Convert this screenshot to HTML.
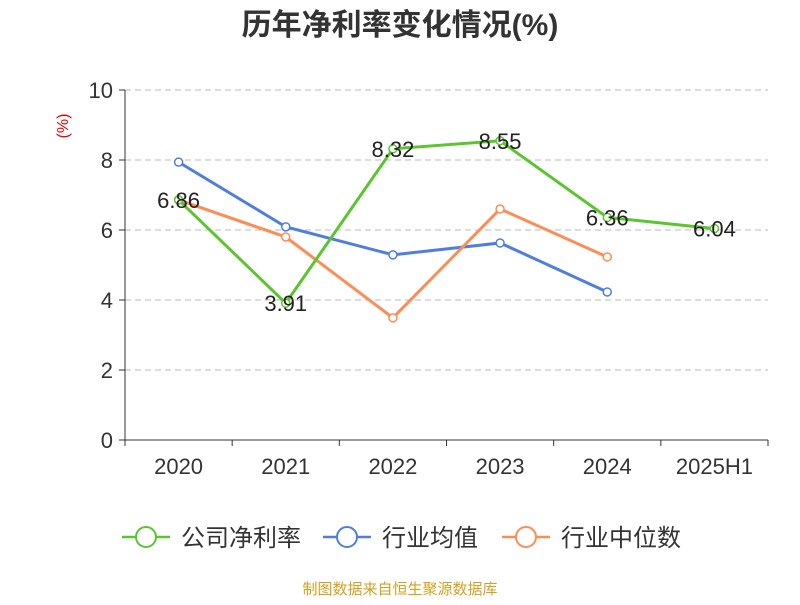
<!DOCTYPE html>
<html><head><meta charset="utf-8"><style>
body{margin:0;background:#fff;font-family:"Liberation Sans","Noto Sans CJK SC",sans-serif}
</style></head><body>
<svg width="800" height="600" font-family="Liberation Sans, Noto Sans CJK SC, sans-serif">
<text x="400" y="35" text-anchor="middle" font-size="30" font-weight="bold" fill="#333">历年净利率变化情况(%)</text>
<text x="68" y="126" text-anchor="middle" font-size="16" fill="#e00" transform="rotate(-90 68 126)">(%)</text>
<g id="grid"></g><g id="axes"></g><g id="series"></g>
<g>
<g><line x1="122" y1="537" x2="170" y2="537" stroke="#5ac52e" stroke-width="2.5"/><circle cx="146" cy="537" r="10" fill="#fff" stroke="#5ac52e" stroke-width="2"/><text x="181" y="546" font-size="24" fill="#333">公司净利率</text></g>
<g><line x1="323" y1="537" x2="371" y2="537" stroke="#4e7fe0" stroke-width="2.5"/><circle cx="347" cy="537" r="10" fill="#fff" stroke="#4e7fe0" stroke-width="2"/><text x="382" y="546" font-size="24" fill="#333">行业均值</text></g>
<g><line x1="502" y1="537" x2="550" y2="537" stroke="#ff8c55" stroke-width="2.5"/><circle cx="526" cy="537" r="10" fill="#fff" stroke="#ff8c55" stroke-width="2"/><text x="561" y="546" font-size="24" fill="#333">行业中位数</text></g>
</g>
<text x="400" y="594" text-anchor="middle" font-size="15" fill="#d4a020">制图数据来自恒生聚源数据库</text>
</svg>
<script>
const categories=["2020","2021","2022","2023","2024","2025H1"];
const company=[6.86,3.91,8.32,8.55,6.36,6.04];
const industryAvg=[7.94,6.09,5.29,5.63,4.23];
const industryMedian=[6.86,5.8,3.49,6.6,5.23];
const yTicks=[0,2,4,6,8,10];
const NS="http://www.w3.org/2000/svg";
const L=125,R=768,T=90,B=440,bw=(R-L)/categories.length;
const xs=i=>L+bw*(i+0.5), ys=v=>B-(v/10)*(B-T);
function mk(tag,attrs,parent,txt){const e=document.createElementNS(NS,tag);for(const k in attrs)e.setAttribute(k,attrs[k]);if(txt!==undefined)e.textContent=txt;parent.appendChild(e);return e;}
const grid=document.getElementById('grid'),axes=document.getElementById('axes'),ser=document.getElementById('series');
yTicks.forEach(t=>{
  if(t>0){const g=mk('line',{x1:L,x2:R,y1:ys(t),y2:ys(t),stroke:'#bbb','stroke-dasharray':'6,4'},grid);
  
  }
  mk('line',{x1:L-6,x2:L,y1:ys(t),y2:ys(t),stroke:'#333'},axes);
  const tl=mk('text',{x:L-12,y:ys(t)+8,'text-anchor':'end','font-size':22,fill:'#333'},axes,t);
  
  
});
mk('line',{x1:L,x2:L,y1:T,y2:B,stroke:'#333'},axes);
mk('line',{x1:L,x2:R,y1:B,y2:B,stroke:'#333'},axes);
for(let i=0;i<=categories.length;i++)mk('line',{x1:L+bw*i,x2:L+bw*i,y1:B,y2:B+6,stroke:'#333'},axes);
categories.forEach((c,i)=>{
  const t=mk('text',{x:xs(i),y:B+34,'text-anchor':'middle','font-size':22,fill:'#333'},axes,c);
  
  
});
function line(data,color,name,labels){
  const g=mk('g',{},ser);
  
  
  mk('polyline',{points:data.map((v,i)=>xs(i)+','+ys(v)).join(' '),fill:'none',stroke:color,'stroke-width':3},g);
  data.forEach((v,i)=>{
    const c=mk('circle',{cx:xs(i),cy:ys(v),r:4,fill:'#fff',stroke:color,'stroke-width':1.5},g);
    
    
    if(labels){const t=mk('text',{x:xs(i),y:ys(v)+8,'text-anchor':'middle','font-size':22,fill:'#222'},g,v.toFixed(2));
    
    }
  });
}
line(industryAvg,'#4e7fe0','industry-avg-line',false);
line(industryMedian,'#ff8c55','industry-median-line',false);
line(company,'#5ac52e','company-net-margin-line',true);
</script>
</body></html>
